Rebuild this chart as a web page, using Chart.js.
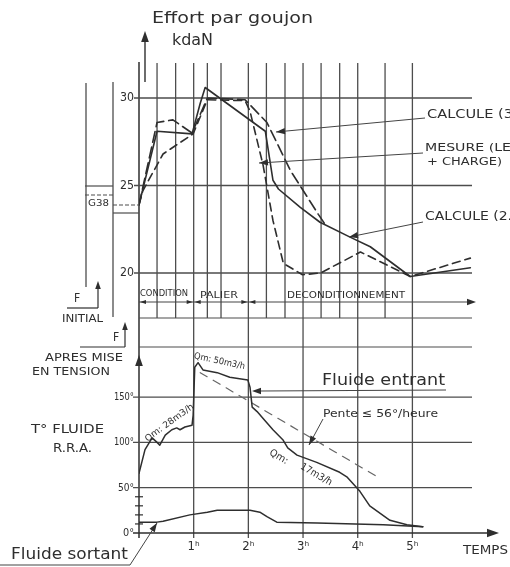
<!DOCTYPE html>
<html>
<head>
<meta charset="utf-8">
<title>Effort par goujon</title>
<script src="https://cdn.jsdelivr.net/npm/chart.js@4.4.1/dist/chart.umd.min.js"></script>
<style>
  html, body { margin: 0; padding: 0; background: #fff; }
  #wrap { position: relative; width: 510px; height: 567px; }
</style>
</head>
<body>
<div id="wrap"><canvas id="chart" width="510" height="567"></canvas></div>
<script>
// ---- Données ----
const effortTicks = [20, 25, 30];          // kdaN
const tempTicks = [0, 50, 100, 150];       // °C
const tempMinorTicks = [10, 20, 30, 40];
const hourTicks = [1, 2, 3, 4, 5];
const upperGridHours = [0.33, 0.67, 1, 1.25, 1.5, 2, 2.33, 2.67, 3, 3.33, 3.67, 4, 4.5, 5];

// Effort par goujon (kdaN)
const calc2Hours  = [0, 0.33, 0.97, 1.12, 1.21, 2.31, 2.45, 2.55, 2.95, 3.31, 3.86, 4.23, 4.96, 6.06];
const calc2Effort = [23.9, 28.1, 27.95, 29.7, 30.6, 28.1, 25.3, 24.8, 23.75, 22.9, 22.05, 21.5, 19.8, 20.3];

const calc3Hours  = [0, 0.33, 0.62, 0.97, 1.25, 1.94, 2.34, 2.77, 3.28, 3.4];
const calc3Effort = [23.9, 28.6, 28.75, 28.0, 30.0, 29.9, 28.6, 25.85, 23.35, 22.8];

const mesureHours  = [0, 0.07, 0.44, 0.75, 0.99, 1.25, 1.94, 2.03, 2.27, 2.45, 2.64, 2.99, 3.32, 4.05, 4.96, 6.06];
const mesureEffort = [23.9, 24.7, 26.8, 27.45, 27.95, 29.9, 29.85, 29.25, 26.15, 23.0, 20.55, 19.9, 20.0, 21.2, 19.8, 20.85];

// Température fluide R.R.A. (°C)
const entrantHours = [0, 0.11, 0.24, 0.33, 0.38, 0.48, 0.60, 0.69, 0.75, 0.84, 0.97, 0.99, 1.02, 1.08, 1.17, 1.43, 1.66, 1.99, 2.03, 2.07, 2.16, 2.29, 2.45, 2.63, 2.72, 2.89, 3.25, 3.67, 3.8, 4.04, 4.22, 4.59, 4.90, 5.19];
const entrantTemp  = [66, 92, 105, 100, 97, 108, 114, 116, 114, 117, 119, 130, 183, 188, 180, 177, 172, 169, 161, 139, 134, 125, 114, 103, 94, 86, 78, 67, 62, 46, 30, 14, 9, 7];

const sortantHours = [0, 0.33, 0.44, 0.93, 1.25, 1.43, 2.03, 2.21, 2.34, 2.52, 3.26, 4.47, 5.19];
const sortantTemp  = [12, 12, 13, 20, 23, 25, 25, 23, 18, 12, 11, 9, 7];

const penteHours = [1.12, 4.36];
const penteTemp  = [177, 62];

// ---- Style ----
const INK = '#2e2e2e';
const GRID = '#4d4d4d';
const FONT = '"DejaVu Sans Condensed", "Liberation Sans Narrow", "DejaVu Sans", sans-serif';

function pts(xs, ys) {
    return xs.map((x, i) => ({ x: x, y: ys[i] }));
}

function text(ctx, s, x, y, size, opts = {}) {
    ctx.save();
    ctx.font = (opts.weight || 'normal') + ' ' + size + 'px ' + (opts.family || FONT);
    ctx.fillStyle = opts.color || INK;
    ctx.textBaseline = 'middle';
    ctx.textAlign = 'left';
    ctx.translate(x, y);
    if (opts.rot) ctx.rotate(opts.rot * Math.PI / 180);
    const w = ctx.measureText(s).width;
    if (opts.w) ctx.scale(opts.w / w, 1);
    let ax = 0;
    if (opts.align === 'right') ax = -w;
    if (opts.align === 'center') ax = -w / 2;
    ctx.fillText(s, ax, 0);
    ctx.restore();
}

function seg(ctx, x1, y1, x2, y2, width, color, dash) {
    ctx.save();
    ctx.strokeStyle = color || GRID;
    ctx.lineWidth = width || 1.2;
    ctx.setLineDash(dash || []);
    ctx.beginPath();
    ctx.moveTo(x1, y1);
    ctx.lineTo(x2, y2);
    ctx.stroke();
    ctx.restore();
}

function head(ctx, x, y, ang, size) {
    // pointe de flèche en (x,y), orientée selon ang (radians)
    const s = size || 7;
    ctx.save();
    ctx.fillStyle = INK;
    ctx.translate(x, y);
    ctx.rotate(ang);
    ctx.beginPath();
    ctx.moveTo(0, 0);
    ctx.lineTo(-s, -s * 0.35);
    ctx.lineTo(-s, s * 0.35);
    ctx.closePath();
    ctx.fill();
    ctx.restore();
}

function leader(ctx, x1, y1, x2, y2) {
    seg(ctx, x1, y1, x2, y2, 1, '#444');
    head(ctx, x2, y2, Math.atan2(y2 - y1, x2 - x1), 9);
}

// ---- Plugin : quadrillage et annotations ----
const gridPlugin = {
    id: 'grid',
    beforeDatasetsDraw(chart) {
        const ctx = chart.ctx;
        const a = chart.chartArea;
        const X = chart.scales.x, K = chart.scales.yK, C = chart.scales.yC;

        // lignes verticales du haut
        upperGridHours.forEach(h => {
            const px = X.getPixelForValue(h);
            const bottom = hourTicks.includes(h) ? 538 : 318;
            seg(ctx, px, 63, px, bottom, 1.3);
        });
        // axe vertical
        seg(ctx, a.left, 62, a.left, 538, 1.5, INK);

        // horizontales effort
        effortTicks.forEach(v => {
            const py = K.getPixelForValue(v);
            seg(ctx, 134, py, a.right, py, 1.3);
        });
        // séparations
        seg(ctx, a.left, 318, a.right, 318, 1.2);
        seg(ctx, a.left, 347, a.right, 347, 1.2);

        // horizontales température
        tempTicks.forEach(v => {
            const py = C.getPixelForValue(v);
            if (v === 0) {
                seg(ctx, 133, py, 492, py, 1.5, INK);
                head(ctx, 499, py, 0, 12);
            } else {
                seg(ctx, 133, py, a.right, py, 1.3);
            }
        });
        tempMinorTicks.forEach(v => {
            const py = C.getPixelForValue(v);
            seg(ctx, 135, py, 143, py, 1.2, INK);
        });
        head(ctx, a.left, 355, -Math.PI / 2, 11);

        // ligne des phases
        seg(ctx, a.left, 302, 473, 302, 1.1, '#444');
        const h1 = X.getPixelForValue(1), h2 = X.getPixelForValue(2);
        head(ctx, a.left + 1, 302, Math.PI, 6);
        head(ctx, h1 - 1, 302, 0, 6);
        head(ctx, h1 + 1, 302, Math.PI, 6);
        head(ctx, h2 - 1, 302, 0, 6);
        head(ctx, h2 + 1, 302, Math.PI, 6);
        head(ctx, 476, 302, 0, 9);
    },
    afterDatasetsDraw(chart) {
        const ctx = chart.ctx;
        const X = chart.scales.x, K = chart.scales.yK, C = chart.scales.yC;

        // titre axe effort
        text(ctx, 'Effort par goujon', 152, 19, 15, { w: 161 });
        text(ctx, 'kdaN', 172, 41, 16, { w: 41 });
        seg(ctx, 145, 82, 145, 40, 1.4, INK);
        head(ctx, 145, 31, -Math.PI / 2, 11);

        // graduations
        effortTicks.forEach(v => {
            text(ctx, String(v), 134, K.getPixelForValue(v), 13, { align: 'right', w: 14 });
        });
        tempTicks.forEach(v => {
            const lbl = v + '°';
            text(ctx, lbl, 134, C.getPixelForValue(v), 11, { align: 'right', w: v >= 100 ? 20 : (v ? 16 : 11) });
        });
        hourTicks.forEach(h => {
            text(ctx, h + 'ʰ', X.getPixelForValue(h), 547, 13, { align: 'center' });
        });
        text(ctx, 'TEMPS', 463, 551, 12, { w: 45 });

        // bloc F initial / G38
        seg(ctx, 86, 83, 86, 287, 1.3);
        seg(ctx, 113, 82, 113, 317, 1.3);
        seg(ctx, 85, 186, 113, 186, 1.2);
        seg(ctx, 85, 195, 113, 195, 1.1, GRID, [4, 2]);
        seg(ctx, 113, 205, 139, 205, 1.1, GRID, [4, 2]);
        seg(ctx, 113, 213, 139, 213, 1.2);
        text(ctx, 'G38', 88, 204, 9, { w: 21 });

        text(ctx, 'F', 74, 299, 12);
        seg(ctx, 67, 308, 98, 308, 1.2, INK);
        seg(ctx, 98, 308, 98, 288, 1.2, INK);
        head(ctx, 98, 281, -Math.PI / 2, 8);
        text(ctx, 'INITIAL', 62, 319, 11, { w: 41 });

        text(ctx, 'F', 113, 338, 12);
        seg(ctx, 80, 347, 125, 347, 1.2, INK);
        seg(ctx, 125, 347, 125, 329, 1.2, INK);
        head(ctx, 125, 322, -Math.PI / 2, 8);
        text(ctx, 'APRES MISE', 45, 358, 11, { w: 78 });
        text(ctx, 'EN TENSION', 32, 372, 11, { w: 78 });

        // phases
        text(ctx, 'CONDITION', 140, 294, 8, { w: 48 });
        text(ctx, 'PALIER', 200, 296, 9, { w: 38 });
        text(ctx, 'DECONDITIONNEMENT', 287, 296, 8, { w: 118 });

        // légendes des courbes du haut
        text(ctx, 'CALCULE (3', 427, 115, 12, { w: 86 });
        leader(ctx, 425, 118, 276, 132);
        text(ctx, 'MESURE (LE', 425, 148, 11, { w: 86 });
        text(ctx, '+ CHARGE)', 427, 162, 11, { w: 75 });
        leader(ctx, 423, 153, 259, 163);
        text(ctx, 'CALCULE (2.', 425, 217, 12, { w: 87 });
        leader(ctx, 423, 222, 349, 237);

        // partie basse
        text(ctx, 'T° FLUIDE', 31, 430, 12, { w: 73 });
        text(ctx, 'R.R.A.', 53, 449, 12, { w: 39 });

        text(ctx, 'Fluide entrant', 322, 381, 16, { w: 123 });
        seg(ctx, 260, 391, 446, 390, 1.1, '#444');
        head(ctx, 252, 391, Math.PI, 9);

        text(ctx, 'Pente ≤ 56°/heure', 323, 414, 11, { w: 115 });
        leader(ctx, 323, 419, 309, 445);

        text(ctx, 'Qm: 50m3/h', 194, 356, 9, { rot: 12, w: 52 });
        text(ctx, 'Qm: 28m3/h', 146, 440, 9, { rot: -36, w: 58 });
        text(ctx, 'Qm:', 270, 452, 10, { rot: 30, w: 20 });
        text(ctx, '17m3/h', 301, 466, 10, { rot: 30, w: 35 });

        text(ctx, 'Fluide sortant', 11, 555, 15, { w: 117 });
        seg(ctx, 0, 565, 130, 565, 1.1, '#444');
        leader(ctx, 130, 565, 157, 523);
    }
};

const ctx = document.getElementById('chart').getContext('2d');
new Chart(ctx, {
    type: 'line',
    data: {
        datasets: [
            { label: 'Calculé (2)', data: pts(calc2Hours, calc2Effort), yAxisID: 'yK',
              borderColor: INK, borderWidth: 1.6 },
            { label: 'Calculé (3)', data: pts(calc3Hours, calc3Effort), yAxisID: 'yK',
              borderColor: INK, borderWidth: 1.6, borderDash: [11, 5] },
            { label: 'Mesuré', data: pts(mesureHours, mesureEffort), yAxisID: 'yK',
              borderColor: INK, borderWidth: 1.6, borderDash: [8, 5] },
            { label: 'Fluide entrant', data: pts(entrantHours, entrantTemp), yAxisID: 'yC',
              borderColor: INK, borderWidth: 1.5 },
            { label: 'Fluide sortant', data: pts(sortantHours, sortantTemp), yAxisID: 'yC',
              borderColor: INK, borderWidth: 1.5 },
            { label: 'Pente', data: pts(penteHours, penteTemp), yAxisID: 'yC',
              borderColor: '#666', borderWidth: 1.2, borderDash: [8, 7] }
        ]
    },
    options: {
        responsive: false,
        animation: false,
        layout: { padding: { left: 139, right: 38, top: 62, bottom: 34 } },
        elements: {
            point: { radius: 0 },
            line: { tension: 0, borderJoinStyle: 'round', borderCapStyle: 'round' }
        },
        plugins: {
            legend: { display: false },
            tooltip: { enabled: false }
        },
        scales: {
            x: { type: 'linear', min: 0, max: 6.09, display: false },
            yK: { type: 'linear', min: 5.143, max: 32.057, display: false },
            yC: { type: 'linear', min: 0, max: 519.9, display: false }
        }
    },
    plugins: [gridPlugin]
});
</script>
</body>
</html>
